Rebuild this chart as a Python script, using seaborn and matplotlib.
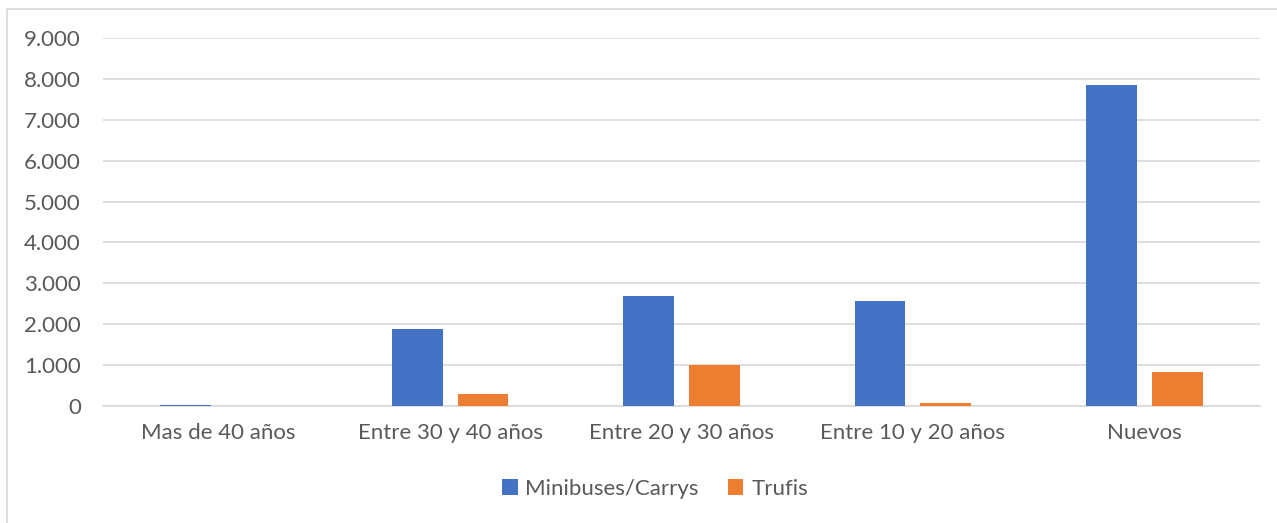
import matplotlib
matplotlib.use("Agg")
import matplotlib.pyplot as plt
from matplotlib.patches import Rectangle
from matplotlib.ticker import FuncFormatter, MultipleLocator
import seaborn as sns
import pandas as pd

categories = ["Mas de 40 años", "Entre 30 y 40 años", "Entre 20 y 30 años",
              "Entre 10 y 20 años", "Nuevos"]
minibuses = [30, 1880, 2690, 2570, 7850]
trufis = [0, 290, 1000, 70, 830]
series_names = ["Minibuses/Carrys", "Trufis"]

df = pd.DataFrame({
    "categoria": categories * 2,
    "vehiculos": minibuses + trufis,
    "tipo": [series_names[0]] * len(categories) + [series_names[1]] * len(categories),
})

sns.set_theme(style="white")
plt.rcParams["font.family"] = ["Lato", "DejaVu Sans"]

W, H = 1277, 523
fig = plt.figure(figsize=(W / 100, H / 100), dpi=100)
ax = fig.add_axes([103 / W, 1 - 406 / H, (1260 - 103) / W, (406 - 38) / H])

palette = {series_names[0]: "#4472C4", series_names[1]: "#ED7D31"}
sns.barplot(data=df, x="categoria", y="vehiculos", hue="tipo", order=categories,
            hue_order=series_names, palette=palette, width=0.57, gap=0.23,
            saturation=1, ax=ax, legend=True, zorder=3, linewidth=0)

ax.set_xlim(-0.5, len(categories) - 0.5)
ax.set_ylim(0, 9000)
ax.yaxis.set_major_locator(MultipleLocator(1000))
ax.yaxis.set_major_formatter(FuncFormatter(lambda v, _: f"{int(v):,}".replace(",", ".")))
ax.grid(axis="y", color="#D9D9D9", linewidth=1.2, zorder=0)
ax.set_axisbelow(True)
for s in ["top", "right", "left"]:
    ax.spines[s].set_visible(False)
ax.spines["bottom"].set_color("#D9D9D9")
ax.spines["bottom"].set_linewidth(1.2)
ax.set_xlabel("")
ax.set_ylabel("")
ax.tick_params(axis="both", length=0, labelsize=16, colors="#595959")
ax.tick_params(axis="x", pad=12)
ax.tick_params(axis="y", pad=16)

handles, labels = ax.get_legend_handles_labels()
ax.get_legend().remove()
fig.legend(handles, labels, loc="center", bbox_to_anchor=(655 / W, 1 - 489 / H),
           ncol=2, frameon=False, fontsize=16, handlelength=0.7, handleheight=0.7,
           handletextpad=0.35, columnspacing=1.3, labelcolor="#595959")

fig.patches.append(Rectangle((7 / W, -0.05), 1.05, 1.05 - 9 / H, transform=fig.transFigure,
                             fill=False, edgecolor="#D9D9D9", linewidth=1.2))

fig.savefig("out.png", dpi=100)
